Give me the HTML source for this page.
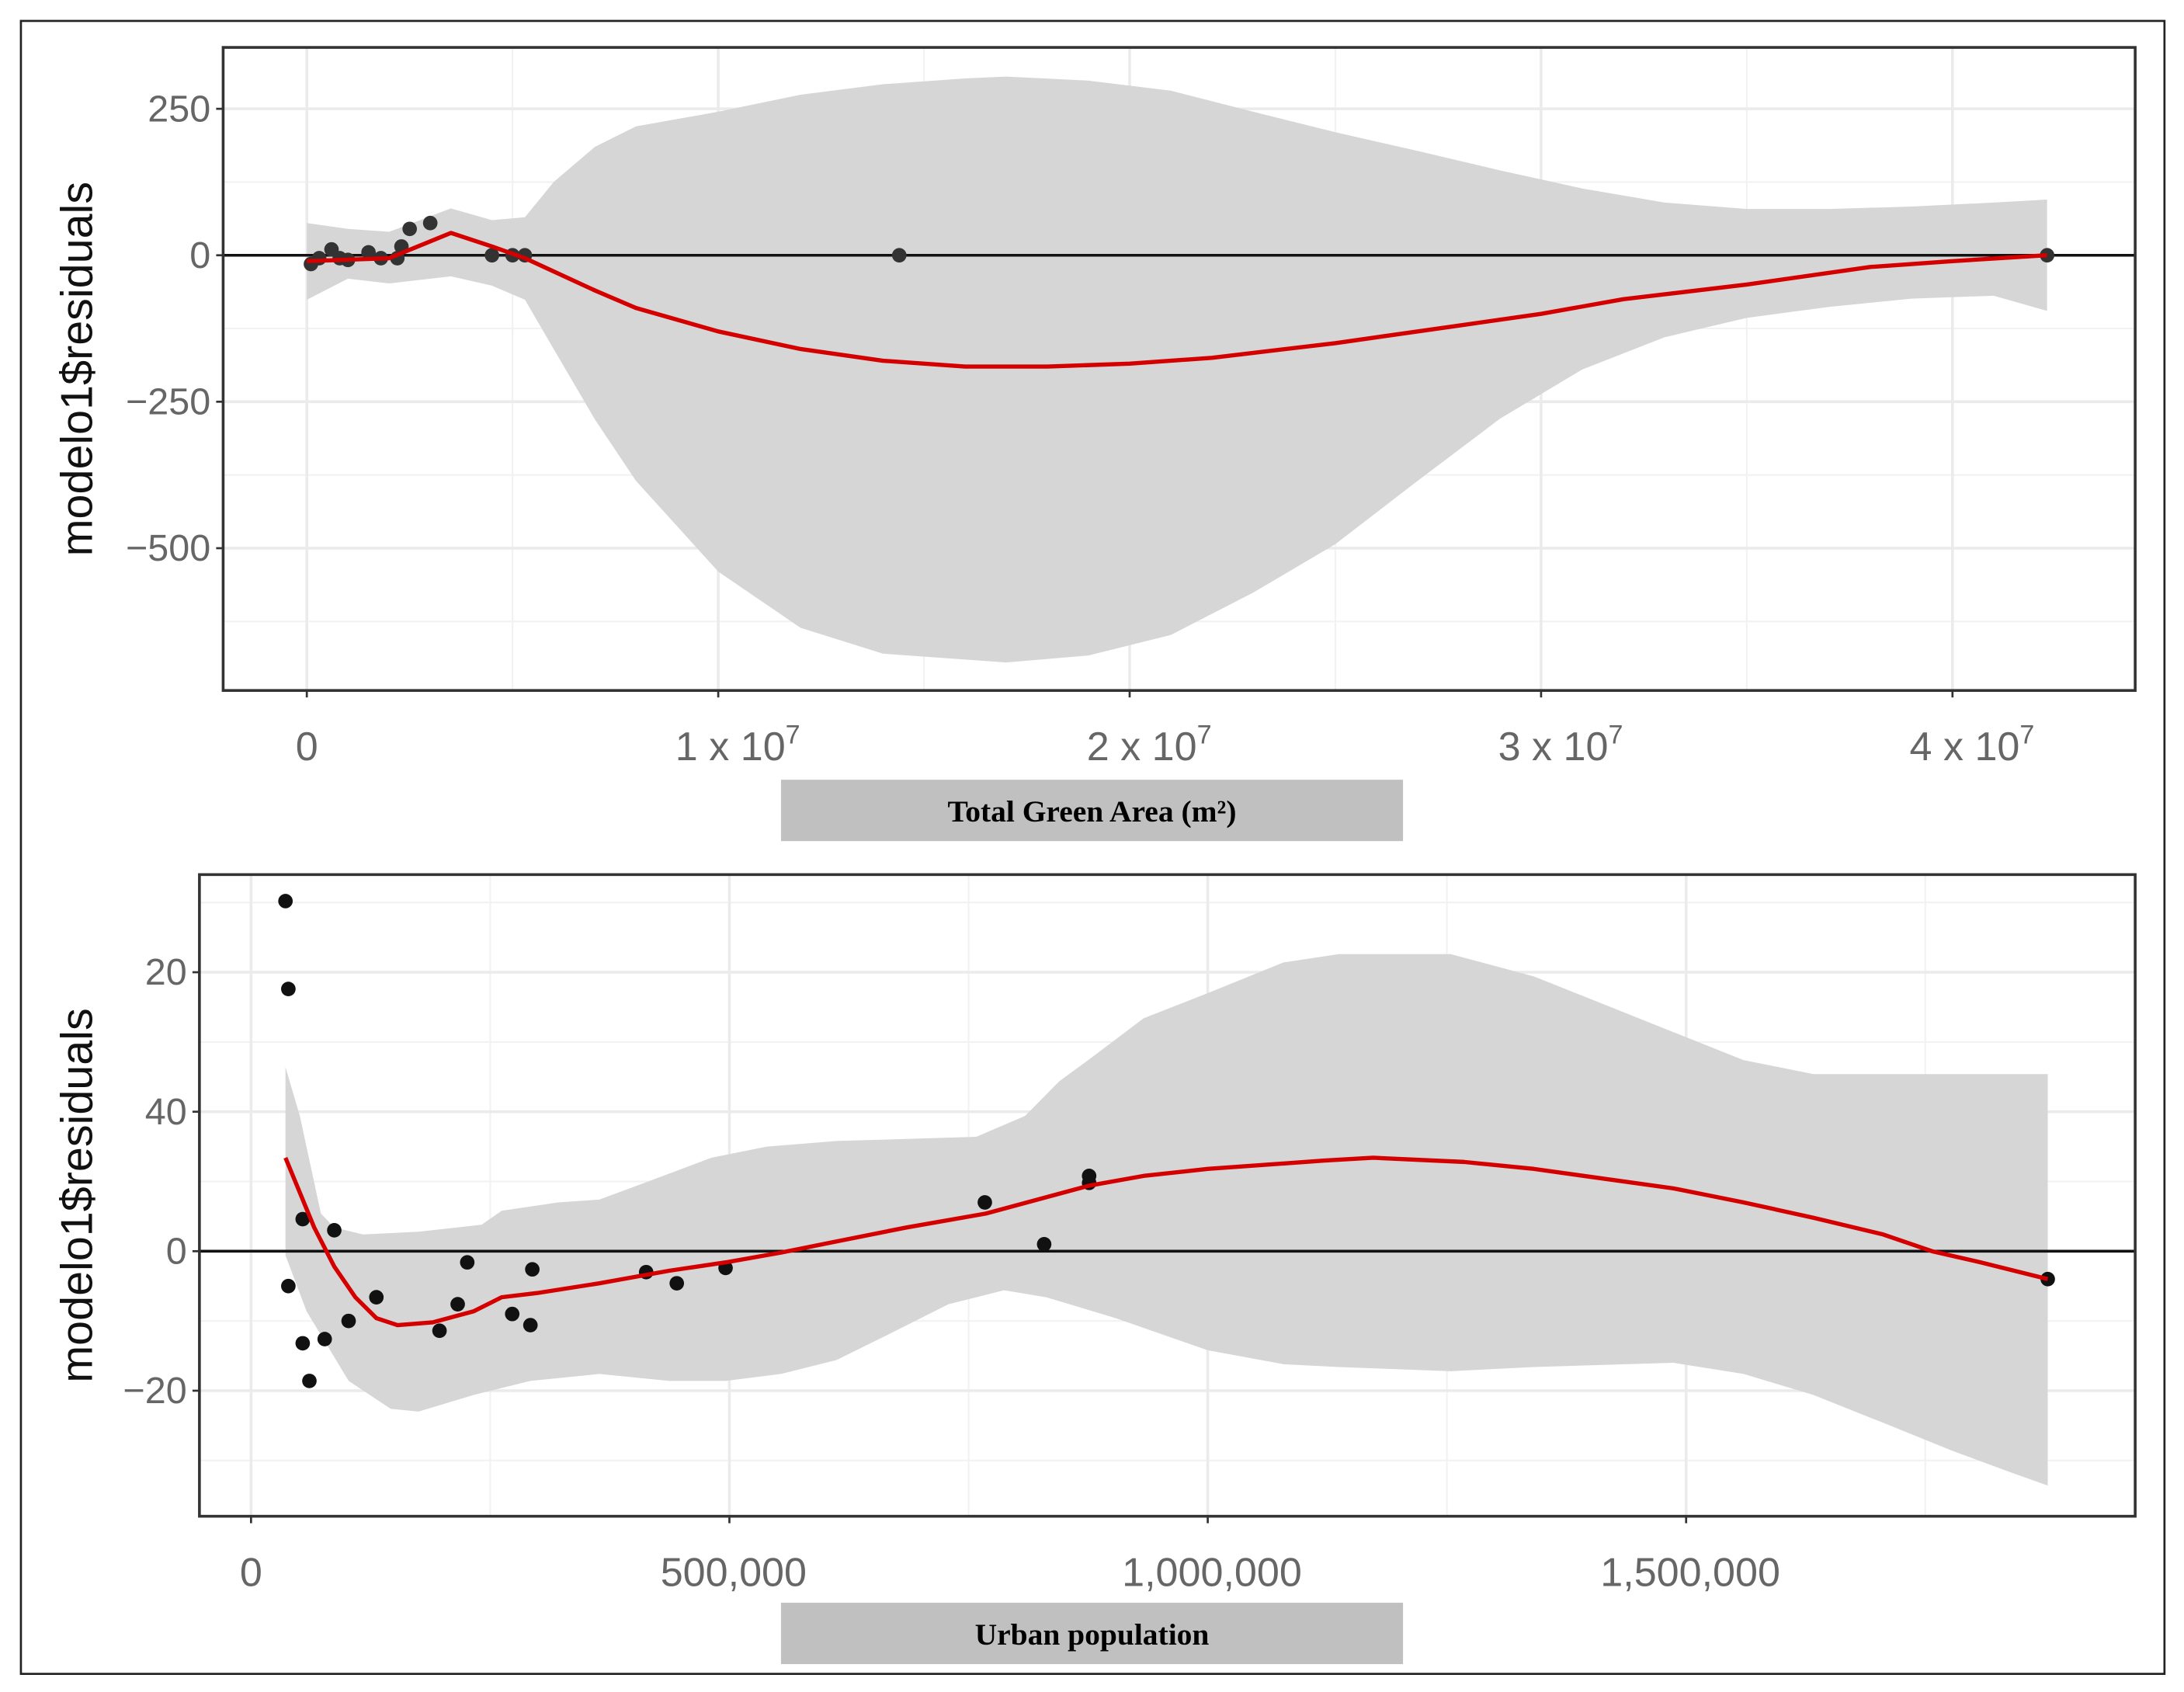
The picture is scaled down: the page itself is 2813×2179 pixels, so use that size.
<!DOCTYPE html>
<html><head><meta charset="utf-8"><style>
html,body{margin:0;padding:0;background:#fff;}
svg{display:block;}
</style></head><body>
<svg id="fig" width="2813" height="2179" viewBox="0 0 1566 1213" preserveAspectRatio="none" xmlns="http://www.w3.org/2000/svg">
<rect x="0" y="0" width="1566" height="1213" fill="#fff"/>
<rect x="15" y="15" width="1537" height="1185" fill="none" stroke="#222" stroke-width="1.5"/>
<g id="top"></g>
<g id="bot"></g>
</svg>
<script>
// ---- Top chart data (x in millions of m², y residuals)
const topXTicks = [0, 10, 20, 30, 40];
const topXLabels = ["0", "1 x 10", "2 x 10", "3 x 10", "4 x 10"];
const topYTicks = [250, 0, -250, -500];
const topYLabels = ["250", "0", "\u2212250", "\u2212500"];
const topPtsX = [0.1,0.3,0.6,0.8,1.0,1.5,1.8,2.2,2.3,2.5,3.0,4.5,5.0,5.3,14.4,42.3];
const topPtsY = [-15,-5,10,-5,-8,5,-5,-5,15,45,55,0,0,0,0,0];
const topFitX = [0,2,3.5,4.5,5.3,7,8,10,12,14,16,18,20,22,25,28,30,32,35,38,40,42.3];
const topFitY = [-10,-5,38,15,-5,-60,-90,-130,-160,-180,-190,-190,-185,-175,-150,-120,-100,-75,-50,-20,-10,0];
const topBandX = [0,1,2,3.5,4.5,5.3,6,7,8,10,12,14,16,17,19,21,23,25,27,29,31,33,35,37,39,41,42.3];
const topBandHi = [55,45,40,80,60,65,125,185,220,245,274,292,302,305,298,281,245,210,178,145,114,90,79,79,83,90,95];
const topBandLo = [-76,-40,-48,-36,-52,-76,-160,-280,-385,-540,-636,-680,-690,-695,-683,-648,-576,-493,-385,-279,-195,-140,-107,-88,-74,-69,-95];

// ---- Bottom chart data (x in thousands of people)
const botXTicks = [0, 500, 1000, 1500];
const botXLabels = ["0", "500,000", "1,000,000", "1,500,000"];
const botYTicks = [40, 20, 0, -20];
const botYLabels = ["20", "40", "0", "\u221220"];
const botPtsX = [36,39,54,87,39,54,77,61,102,131,197,216,226,273,292,294,413,445,496,767,829,876,876,1878];
const botPtsY = [50.2,37.6,4.6,3,-5,-13.2,-12.6,-18.6,-10,-6.6,-11.4,-7.6,-1.6,-9,-10.6,-2.6,-3,-4.6,-2.4,7,1,10.8,9.8,-4];
const botFitX = [36,51,66,87,109,131,153,190,233,262,299,364,437,496,554,612,685,768,876,933,1000,1122,1173,1268,1341,1414,1487,1560,1633,1706,1757,1808,1878];
const botFitY = [13.4,8.4,3.4,-2.2,-6.6,-9.6,-10.6,-10.2,-8.6,-6.6,-6,-4.6,-2.8,-1.6,-0.2,1.4,3.4,5.4,9.4,10.8,11.8,13,13.4,12.8,11.8,10.4,9,7,4.8,2.4,0,-1.6,-4];
const botHiX = [36,51,73,87,117,175,241,262,321,364,423,481,539,612,758,809,845,875,933,1000,1079,1137,1254,1341,1414,1487,1560,1633,1878];
const botHi = [26.4,19.4,5.4,3.4,2.4,2.8,3.8,5.8,7,7.4,10.4,13.4,15,15.8,16.4,19.4,24.4,27.4,33.4,37,41.4,42.6,42.6,39.4,35.4,31.4,27.4,25.4,25.4];
const botLoX = [36,58,102,146,175,233,292,364,437,496,554,612,671,729,787,831,904,1000,1079,1137,1254,1341,1487,1560,1633,1706,1778,1837,1878];
const botLo = [-0.6,-8.6,-18.6,-22.6,-23,-20.6,-18.6,-17.6,-18.6,-18.6,-17.6,-15.6,-11.6,-7.6,-5.6,-6.6,-9.6,-14.2,-16.2,-16.6,-17.2,-16.6,-16,-17.6,-20.6,-24.6,-28.6,-31.6,-33.6];

const NS = "http://www.w3.org/2000/svg";
function mk(parent, tag, attrs, text){
  const e = document.createElementNS(NS, tag);
  for (const k in attrs) e.setAttribute(k, attrs[k]);
  if (text !== undefined) e.textContent = text;
  parent.appendChild(e);
  return e;
}
function pts(xs, ys, sx, sy){ return xs.map((x,i)=>sx(x).toFixed(1)+","+sy(ys[i]).toFixed(1)).join(" "); }

function drawPanel(g, cfg){
  const {x0,x1,y0,y1,sx,sy} = cfg;
  let e = mk(g,'rect',{x:x0,y:y0,width:x1-x0,height:y1-y0,fill:'#fff'});
  
  
  cfg.minorY.forEach(v=>{
    const l = mk(g,'line',{x1:x0,x2:x1,y1:sy(v),y2:sy(v),stroke:'#f2f2f2','stroke-width':1.2});
    
    
  });
  cfg.minorX.forEach(v=>{
    const l = mk(g,'line',{x1:sx(v),x2:sx(v),y1:y0,y2:y1,stroke:'#f2f2f2','stroke-width':1.2});
    
    
  });
  cfg.yTicks.forEach(v=>{
    const l = mk(g,'line',{x1:x0,x2:x1,y1:sy(v),y2:sy(v),stroke:'#ebebeb','stroke-width':2});
    
    
  });
  cfg.xTicks.forEach(v=>{
    const l = mk(g,'line',{x1:sx(v),x2:sx(v),y1:y0,y2:y1,stroke:'#ebebeb','stroke-width':2});
    
    
  });
  const hi = pts(cfg.hiX, cfg.hi, sx, sy);
  const lo = cfg.loX.map((x,i)=>sx(x).toFixed(1)+","+sy(cfg.lo[i]).toFixed(1)).reverse().join(" ");
  e = mk(g,'polygon',{points:hi+" "+lo,fill:'#d6d6d6'});
  
  
  e = mk(g,'line',{x1:x0,x2:x1,y1:sy(0),y2:sy(0),stroke:'#111','stroke-width':2});
  
  
  cfg.px.forEach((x,i)=>{
    const c = mk(g,'circle',{cx:sx(x),cy:sy(cfg.py[i]),r:5.2,fill:cfg.dot});
    
    
  });
  e = mk(g,'polyline',{points:pts(cfg.fx,cfg.fy,sx,sy),fill:'none',stroke:'#d40000','stroke-width':3,'stroke-linejoin':'round'});
  
  
  e = mk(g,'rect',{x:x0,y:y0,width:x1-x0,height:y1-y0,fill:'none',stroke:'#333','stroke-width':2});
  
  
  cfg.yTicks.forEach((v,i)=>{
    const t = mk(g,'line',{x1:x0-5,x2:x0,y1:sy(v),y2:sy(v),stroke:'#333','stroke-width':1.5});
    
    
    const tx = mk(g,'text',{x:x0-9,y:sy(v)+9,'text-anchor':'end','font-family':'Liberation Sans, sans-serif','font-size':27,fill:'#666'},cfg.yLabels[i]);
    
    
  });
  cfg.xTicks.forEach((v,i)=>{
    const t = mk(g,'line',{x1:sx(v),x2:sx(v),y1:y1,y2:y1+5,stroke:'#333','stroke-width':1.5});
    
    
    const tx = mk(g,'text',{x:sx(v)+(i===0?0:cfg.labelShift),y:y1+50,'text-anchor':'middle','font-family':'Liberation Sans, sans-serif','font-size':29,fill:'#666'},cfg.xLabels[i]);
    if (cfg.sup && i>0) mk(tx,'tspan',{dy:-12,'font-size':19},'7');
    
    
  });
  const yt = mk(g,'text',{x:0,y:0,transform:`translate(${cfg.titleX},${(y0+y1)/2}) rotate(-90)`,'text-anchor':'middle','font-family':'Liberation Sans, sans-serif','font-size':32,fill:'#111'},'modelo1$residuals');
  
  
  e = mk(g,'rect',{x:560,y:cfg.boxY,width:446,height:44,fill:'#c0c0c0'});
  
  
  const xt = mk(g,'text',{x:783,y:cfg.boxY+30,'text-anchor':'middle','font-family':'Liberation Serif, serif','font-weight':'bold','font-size':22,fill:'#000'},cfg.xTitle);
  
  
}

drawPanel(document.getElementById('top'), {
  prefix:'green-area', x0:160,x1:1531,y0:34,y1:495,
  sx: v => 220 + v*29.5, sy: v => 183 - v*0.42,
  xTicks: topXTicks, xLabels: topXLabels, yTicks: topYTicks, yLabels: topYLabels,
  minorX:[5,15,25,35], minorY:[125,-125,-375,-625],
  hiX: topBandX, hi: topBandHi, loX: topBandX, lo: topBandLo,
  px: topPtsX, py: topPtsY, fx: topFitX, fy: topFitY, dot:'#333',
  sup:true, labelShift:14, titleX:66, boxY:559, xTitle:'Total Green Area (m\u00b2)'
});
drawPanel(document.getElementById('bot'), {
  prefix:'urban-pop', x0:143,x1:1531,y0:627,y1:1087,
  sx: v => 180 + v*0.686, sy: v => 897 - v*5,
  xTicks: botXTicks, xLabels: botXLabels, yTicks: botYTicks, yLabels: botYLabels,
  minorX:[250,750,1250,1750], minorY:[50,30,10,-10,-30],
  hiX: botHiX, hi: botHi, loX: botLoX, lo: botLo,
  px: botPtsX, py: botPtsY, fx: botFitX, fy: botFitY, dot:'#111',
  sup:false, labelShift:3, titleX:66, boxY:1149, xTitle:'Urban population'
});
</script>
</body></html>
